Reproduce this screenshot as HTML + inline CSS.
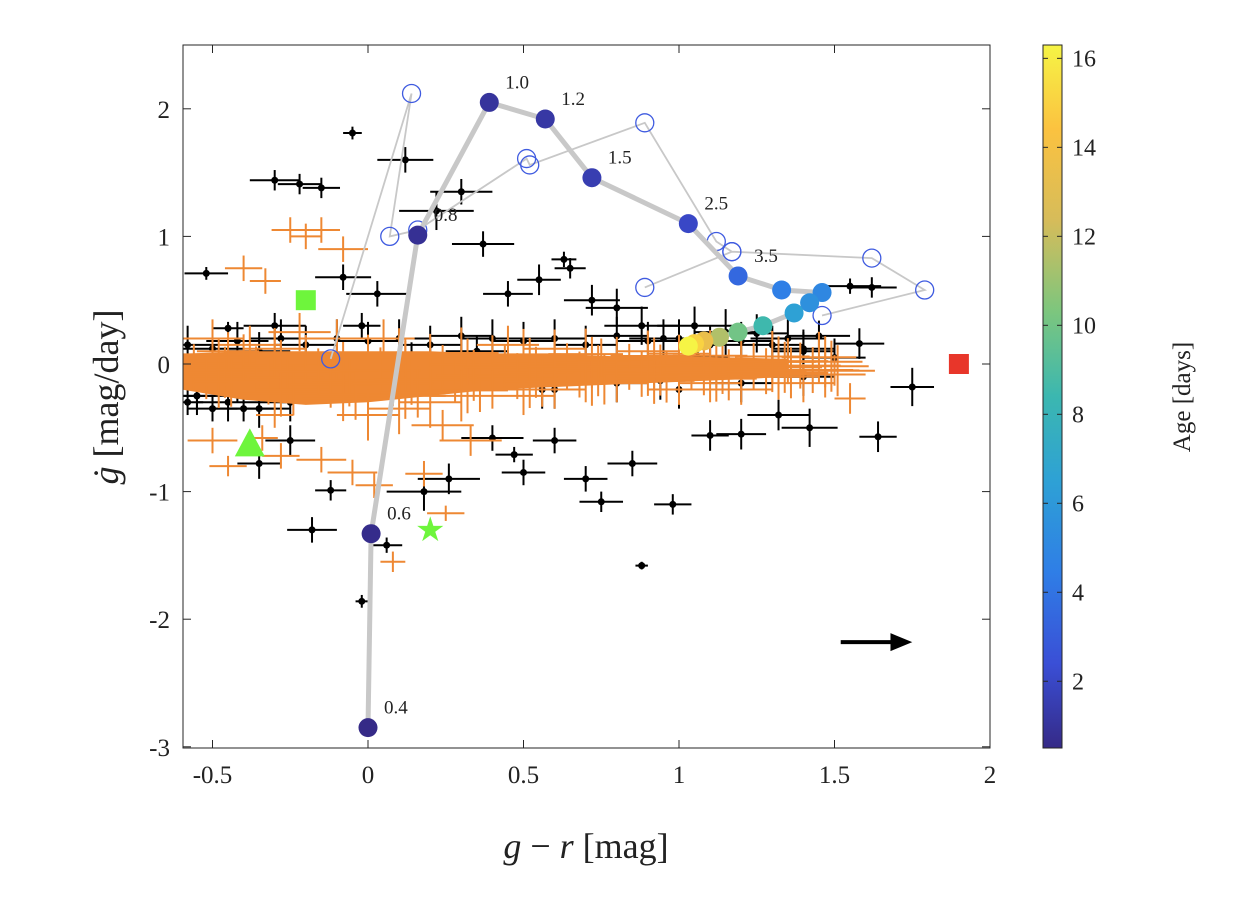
<!DOCTYPE html>
<html><head><meta charset="utf-8"><style>
html,body{margin:0;padding:0;background:#fff;}
svg text{font-family:"Liberation Serif",serif;fill:#222;}
</style></head><body>
<svg id="chart" width="1236" height="898" viewBox="0 0 1236 898">
<defs>
<linearGradient id="parula" x1="0" y1="1" x2="0" y2="0">
<stop offset="0" stop-color="#352a87"/><stop offset="0.12" stop-color="#3a4fd6"/>
<stop offset="0.25" stop-color="#2f7ee6"/><stop offset="0.38" stop-color="#2ea1d5"/>
<stop offset="0.5" stop-color="#3bb7b0"/><stop offset="0.62" stop-color="#7cc67e"/>
<stop offset="0.75" stop-color="#d6bc5a"/><stop offset="0.88" stop-color="#fbc240"/>
<stop offset="1" stop-color="#f6f445"/>
</linearGradient>
<clipPath id="pc"><rect x="183" y="45" width="807" height="703"/></clipPath>
</defs>
<g id="plot" clip-path="url(#pc)"></g>
<g id="axes"></g>
</svg>
<script>
// ---- data ----
const blackX=[-0.52,-0.45,-0.3,-0.22,-0.15,-0.05,0.03,0.12,0.22,0.3,0.37,0.45,0.55,0.63,0.72,0.8,0.88,0.95,1.05,1.15,1.25,1.35,1.45,1.55,1.62,1.75,1.64,-0.58,-0.5,-0.4,-0.35,-0.25,-0.12,0.06,0.18,0.26,0.4,0.5,0.6,0.7,0.85,0.98,1.1,1.2,1.32,1.42,-0.3,-0.08,-0.02,0.14,0.35,0.56,0.65,0.94,1.06,0.75,0.47,-0.18,-0.42,-0.55,-0.02,0.88,1.4,1.58];
const blackY=[0.71,0.28,1.44,1.41,1.38,1.81,0.55,1.6,1.2,1.35,0.94,0.55,0.66,0.82,0.5,0.44,0.3,0.2,0.3,0.25,0.24,0.2,0.22,0.61,0.6,-0.18,-0.57,-0.3,-0.35,-0.35,-0.78,-0.6,-0.99,-1.42,-1.0,-0.9,-0.58,-0.85,-0.6,-0.9,-0.78,-1.1,-0.56,-0.55,-0.4,-0.5,0.3,0.68,0.3,0.05,0.1,-0.2,0.75,-0.13,0.05,-1.08,-0.71,-1.3,-0.2,-0.25,-1.86,-1.58,0.12,0.16];
const blackXe=[0.07,0.05,0.08,0.07,0.06,0.03,0.1,0.09,0.12,0.1,0.1,0.08,0.07,0.04,0.09,0.1,0.12,0.11,0.12,0.1,0.1,0.12,0.1,0.1,0.08,0.07,0.06,0.05,0.08,0.1,0.07,0.08,0.05,0.05,0.12,0.1,0.1,0.07,0.07,0.07,0.08,0.06,0.06,0.08,0.1,0.09,0.1,0.09,0.06,0.1,0.1,0.08,0.05,0.08,0.1,0.07,0.06,0.08,0.1,0.06,0.02,0.02,0.1,0.08];
const blackYe=[0.05,0.05,0.08,0.08,0.08,0.05,0.1,0.1,0.15,0.1,0.1,0.1,0.12,0.06,0.12,0.15,0.15,0.15,0.15,0.18,0.15,0.15,0.12,0.06,0.08,0.15,0.12,0.1,0.1,0.1,0.12,0.12,0.08,0.06,0.15,0.12,0.1,0.1,0.1,0.1,0.1,0.08,0.12,0.12,0.12,0.15,0.1,0.1,0.1,0.12,0.12,0.15,0.08,0.15,0.15,0.08,0.06,0.1,0.1,0.1,0.05,0.03,0.15,0.12];
// black points hidden in the dense cloud
const blackBandX=[-0.58,-0.5,-0.42,-0.35,-0.28,-0.2,-0.1,0.0,0.1,0.2,0.3,0.4,0.5,0.6,0.7,0.8,0.9,1.0,1.1,1.2,1.3,1.4,1.5,-0.55,-0.45,-0.35,-0.25,0.6,0.8,1.0,1.2,1.4];
const blackBandY=[0.15,0.12,0.18,0.1,0.2,0.15,0.2,0.18,0.2,0.15,0.22,0.2,0.18,0.2,0.15,0.22,0.18,0.2,0.15,0.18,0.15,0.1,0.05,-0.25,-0.3,-0.35,-0.3,-0.2,-0.15,-0.2,-0.15,-0.1];
const orangeX=[-0.4,-0.33,-0.25,-0.2,-0.15,-0.08,0.05,0.12,-0.5,-0.45,-0.38,-0.3,-0.22,-0.1,0.0,0.1,0.2,0.3,0.4,0.5,0.6,0.7,0.8,0.9,1.0,1.1,1.2,1.3,1.4,1.5,1.55,0.18,0.25,0.08,0.02,-0.05,-0.34,-0.28,-0.3,-0.5,-0.45,0.33,0.24,-0.15,0.9,1.0,0.45,0.6,0.75];
const orangeY=[0.75,0.65,1.05,1.0,1.05,0.9,0.2,0.05,0.2,0.1,0.15,0.12,0.25,0.2,-0.4,-0.35,-0.3,-0.25,-0.2,-0.25,-0.2,-0.15,-0.15,-0.1,-0.2,-0.15,-0.2,-0.1,-0.15,-0.05,-0.27,-0.86,-1.17,-1.55,-0.95,-0.85,-0.58,-0.72,-0.4,-0.6,-0.8,-0.6,-0.48,-0.75,0.1,0.08,0.15,0.12,0.05];
const orangeXe=[0.06,0.05,0.06,0.05,0.06,0.08,0.1,0.1,0.1,0.1,0.1,0.1,0.1,0.12,0.1,0.1,0.1,0.1,0.1,0.1,0.1,0.1,0.1,0.1,0.1,0.1,0.1,0.1,0.1,0.08,0.05,0.06,0.06,0.04,0.06,0.08,0.05,0.06,0.06,0.08,0.06,0.1,0.1,0.08,0.1,0.1,0.1,0.1,0.1];
const orangeYe=[0.1,0.1,0.1,0.1,0.1,0.1,0.15,0.15,0.15,0.15,0.15,0.15,0.15,0.15,0.2,0.2,0.2,0.2,0.15,0.15,0.15,0.15,0.15,0.15,0.12,0.15,0.12,0.12,0.15,0.12,0.12,0.1,0.06,0.08,0.1,0.1,0.1,0.1,0.1,0.1,0.08,0.12,0.12,0.1,0.15,0.15,0.15,0.15,0.15];
// dense core band: x positions with upper and lower y bounds
const bandX=[-0.6,-0.4,-0.2,0.0,0.2,0.4,0.6,0.8,1.0,1.2,1.35];
const bandTop=[0.08,0.1,0.1,0.1,0.1,0.08,0.08,0.06,0.06,0.05,0.04];
const bandBot=[-0.2,-0.28,-0.32,-0.3,-0.25,-0.2,-0.18,-0.16,-0.14,-0.12,-0.1];
const trackX=[0.0,0.01,0.16,0.39,0.57,0.72,1.03,1.19,1.33,1.46,1.42,1.37,1.27,1.19,1.13,1.08,1.05,1.03];
const trackY=[-2.85,-1.33,1.01,2.05,1.92,1.46,1.10,0.69,0.58,0.56,0.48,0.40,0.30,0.25,0.21,0.18,0.16,0.14];
const trackAge=[0.5,0.6,0.8,1.0,1.2,1.5,2.0,3.5,4.5,5.0,5.5,6.5,8.5,10.0,11.5,13.5,15.0,16.3];
const trackLabels=["0.4","0.6","0.8","1.0","1.2","1.5","2.5","3.5"];
const openX=[-0.12,0.14,0.07,0.16,0.51,0.52,0.89,1.12,1.17,0.89,1.17,1.62,1.79,1.46];
const openY=[0.04,2.12,1.0,1.05,1.61,1.56,1.89,0.96,0.88,0.60,0.88,0.83,0.58,0.38];
const xTicks=[-0.5,0,0.5,1,1.5,2];
const yTicks=[2,1,0,-1,-2,-3];
const cTicks=[2,4,6,8,10,12,14,16];

// ---- scales ----
const X=v=>368+v*311, Y=v=>364-v*127.6;
const C=v=>748-(v-0.5)/(16.3-0.5)*703;
const NS="http://www.w3.org/2000/svg";
function mk(tag,attrs,parent){const e=document.createElementNS(NS,tag);for(const k in attrs)e.setAttribute(k,attrs[k]);parent.appendChild(e);return e;}
const plot=document.getElementById('plot'), axes=document.getElementById('axes');
const stops=[[0,[53,42,135]],[0.12,[58,79,214]],[0.25,[47,126,230]],[0.38,[46,161,213]],[0.5,[59,183,176]],[0.62,[124,198,126]],[0.75,[214,188,90]],[0.88,[251,194,64]],[1,[246,244,69]]];
function parula(a){let t=Math.max(0,Math.min(1,(a-0.5)/15.8));for(let i=1;i<stops.length;i++){if(t<=stops[i][0]){const [t0,c0]=stops[i-1],[t1,c1]=stops[i];const f=(t-t0)/(t1-t0);return 'rgb('+c0.map((c,j)=>Math.round(c+(c1[j]-c)*f)).join(',')+')';}}return 'rgb(246,244,69)';}

function errbar(x,y,xe,ye,col,name,r){
  const g=mk('g',{},plot);
  
  
  mk('line',{x1:X(x-xe),x2:X(x+xe),y1:Y(y),y2:Y(y),stroke:col,'stroke-width':2},g);
  mk('line',{x1:X(x),x2:X(x),y1:Y(y-ye),y2:Y(y+ye),stroke:col,'stroke-width':2},g);
  if(r)mk('circle',{cx:X(x),cy:Y(y),r:r,fill:col},g);
}
blackX.forEach((x,i)=>errbar(x,blackY[i],blackXe[i],blackYe[i],'#000','black-point',3.5));
blackBandX.forEach((x,i)=>errbar(x,blackBandY[i],0.1,0.15,'#000','black-point',3.5));
// dense orange band
let d='M'+bandX.map((x,i)=>X(x)+','+Y(bandTop[i])).join(' L')+' L'+bandX.slice().reverse().map((x,i)=>X(x)+','+Y(bandBot[bandX.length-1-i])).join(' L')+'Z';
const band=mk('path',{d:d,fill:'#ee8833'},plot);


bandX.forEach((x,i)=>{for(let k=0;k<4;k++){const yy=bandTop[i]+(bandBot[i]-bandTop[i])*(k+0.5)/4;errbar(x+0.04*k,yy,0.13,0.18,'#ee8833','orange-point',0);errbar(x+0.1+0.02*k,yy+0.03,0.12,0.2,'#ee8833','orange-point',0);}});
orangeX.forEach((x,i)=>errbar(x,orangeY[i],orangeXe[i],orangeYe[i],'#ee8833','orange-point',0));
// open circle track
const op=mk('polyline',{points:openX.map((x,i)=>X(x)+','+Y(openY[i])).join(' '),fill:'none',stroke:'#c8c8c8','stroke-width':1.8},plot);


openX.forEach((x,i)=>{const c=mk('circle',{cx:X(x),cy:Y(openY[i]),r:9,fill:'none',stroke:'#3f5be0','stroke-width':1.3},plot);

});
// main track
const tl=mk('polyline',{points:trackX.map((x,i)=>X(x)+','+Y(trackY[i])).join(' '),fill:'none',stroke:'#c8c8c8','stroke-width':5},plot);


trackX.forEach((x,i)=>{const c=mk('circle',{cx:X(x),cy:Y(trackY[i]),r:9.5,fill:parula(trackAge[i])},plot);

});
trackLabels.forEach((s,i)=>{const t=mk('text',{x:X(trackX[i])+16,y:Y(trackY[i])-14,'font-size':19},plot);t.textContent=s;

});
// special markers
let m=mk('rect',{x:X(-0.2)-10,y:Y(0.5)-10,width:20,height:20,fill:'#6ef53c'},plot);

m=mk('polygon',{points:`${X(-0.38)},${Y(-0.63)-16} ${X(-0.38)-15},${Y(-0.63)+12} ${X(-0.38)+15},${Y(-0.63)+12}`,fill:'#6ef53c'},plot);

m=mk('text',{x:X(0.2),y:Y(-1.3)+11,'font-size':34,fill:'#6ef53c','text-anchor':'middle',style:'fill:#6ef53c;font-family:DejaVu Sans,sans-serif'},plot);m.textContent='★';

m=mk('rect',{x:X(1.9)-10,y:Y(0)-10,width:20,height:20,fill:'#e8362a'},plot);

m=mk('g',{},plot);
mk('line',{x1:X(1.52),y1:Y(-2.18),x2:X(1.72),y2:Y(-2.18),stroke:'#000','stroke-width':4},m);
mk('polygon',{points:`${X(1.75)},${Y(-2.18)} ${X(1.68)},${Y(-2.18)-9} ${X(1.68)},${Y(-2.18)+9}`,fill:'#000'},m);

// axes
let fr=mk('rect',{x:183,y:45,width:807,height:703,fill:'none',stroke:'#262626','stroke-width':1},axes);

xTicks.forEach(v=>{mk('line',{x1:X(v),x2:X(v),y1:748,y2:740,stroke:'#262626'},axes);mk('line',{x1:X(v),x2:X(v),y1:45,y2:53,stroke:'#262626'},axes);
const t=mk('text',{x:X(v),y:783,'font-size':25,'text-anchor':'middle'},axes);t.textContent=v;
});
yTicks.forEach(v=>{mk('line',{x1:183,x2:191,y1:Y(v),y2:Y(v),stroke:'#262626'},axes);mk('line',{x1:982,x2:990,y1:Y(v),y2:Y(v),stroke:'#262626'},axes);
const t=mk('text',{x:170,y:Y(v)+9,'font-size':25,'text-anchor':'end'},axes);t.textContent=v;
});
let xl=mk('text',{x:586,y:858,'font-size':36,'text-anchor':'middle'},axes);
xl.innerHTML='<tspan font-style="italic">g</tspan> − <tspan font-style="italic">r</tspan> [mag]';

let yl=mk('text',{x:0,y:0,'font-size':36,'text-anchor':'middle',transform:'translate(118,397) rotate(-90)'},axes);
yl.innerHTML='<tspan font-style="italic">ġ</tspan> [mag/day]';

// colorbar
let cb=mk('rect',{x:1043,y:45,width:19,height:703,fill:'url(#parula)',stroke:'#262626','stroke-width':1},axes);

cTicks.forEach(v=>{mk('line',{x1:1043,x2:1048,y1:C(v),y2:C(v),stroke:'#262626'},axes);mk('line',{x1:1057,x2:1062,y1:C(v),y2:C(v),stroke:'#262626'},axes);
const t=mk('text',{x:1072,y:C(v)+8,'font-size':24},axes);t.textContent=v;
});
let cl=mk('text',{x:0,y:0,'font-size':25,'text-anchor':'middle',transform:'translate(1190,397) rotate(-90)'},axes);
cl.textContent='Age [days]';

</script>
</body></html>
